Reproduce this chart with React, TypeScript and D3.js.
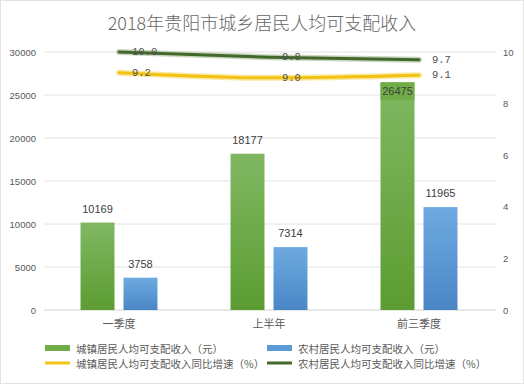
import React from "react";
import * as d3 from "d3";

const title = "2018年贵阳市城乡居民人均可支配收入";
const categories = ["一季度", "上半年", "前三季度"];
const urbanIncome = [10169, 18177, 26475];
const ruralIncome = [3758, 7314, 11965];
const urbanGrowth = [9.2, 9.0, 9.1];
const ruralGrowth = [10.0, 9.8, 9.7];
const leftTicks = [0, 5000, 10000, 15000, 20000, 25000, 30000];
const rightTicks = [0, 2, 4, 6, 8, 10];
const barSeries = ["城镇居民人均可支配收入（元）", "农村居民人均可支配收入（元）"];
const lineSeries = ["城镇居民人均可支配收入同比增速（%）", "农村居民人均可支配收入同比增速（%）"];

const W = 524;
const H = 384;
const M = { left: 44, right: 494, top: 52, bottom: 310 };
const CJK = "'Noto Sans CJK SC', sans-serif";
const SANS = "'Liberation Sans', sans-serif";
const MONO = "'Liberation Mono', monospace";
const TXT = "#595959";

export default function App() {
  const x0 = d3.scaleBand<string>().domain(categories).range([M.left, M.right]);
  const x1 = d3
    .scaleBand<string>()
    .domain(["urban", "rural"])
    .range([0, x0.bandwidth()])
    .paddingInner(0.21)
    .paddingOuter(0.85);
  const yL = d3.scaleLinear().domain([0, 30000]).range([M.bottom, M.top]);
  const yR = d3.scaleLinear().domain([0, 10]).range([M.bottom, M.top]);
  const cx = (c: string) => (x0(c) ?? 0) + x0.bandwidth() / 2;

  const line = d3
    .line<number>()
    .x((_, i) => cx(categories[i]))
    .y((v) => yR(v))
    .curve(d3.curveMonotoneX);

  const bars = [
    { key: "urban", values: urbanIncome, fill: "url(#gGreen)", solid: "#70ad47" },
    { key: "rural", values: ruralIncome, fill: "url(#gBlue)", solid: "#5b9bd5" },
  ];
  const lines = [
    { values: urbanGrowth, color: "#f2c314", glow: "#fbe9a0" },
    { values: ruralGrowth, color: "#43682b", glow: "#c9d6c0" },
  ];

  return (
    <svg width={W} height={H} style={{ position: "absolute", left: 0, top: 0, background: "#fff" }}>
      <defs>
        <linearGradient id="gGreen" x1="0" y1="0" x2="0" y2="1">
          <stop offset="0" stopColor="#80b862" />
          <stop offset="1" stopColor="#5c9c31" />
        </linearGradient>
        <linearGradient id="gBlue" x1="0" y1="0" x2="0" y2="1">
          <stop offset="0" stopColor="#6eaae0" />
          <stop offset="1" stopColor="#4a86c6" />
        </linearGradient>
      </defs>
      <rect x={0.5} y={0.5} width={W - 1} height={H - 1} fill="#fff" stroke="#e3e3e3" />

      <text x={262} y={22} textAnchor="middle" dominantBaseline="central" fontFamily={CJK} fontWeight={300} fontSize={18} fill="#666">
        {title}
      </text>

      {leftTicks.map((t) => (
        <g key={t}>
          <line x1={M.left} x2={M.right + 2} y1={yL(t)} y2={yL(t)} stroke={t === 0 ? "#d0d0d0" : "#e2e2e2"} />
          <text x={36} y={yL(t)} textAnchor="end" dominantBaseline="central" fontFamily={SANS} fontSize={9.5} fill={TXT}>
            {t}
          </text>
        </g>
      ))}
      {rightTicks.map((t) => (
        <text key={t} x={503} y={yR(t)} dominantBaseline="central" fontFamily={SANS} fontSize={9.5} fill={TXT}>
          {t}
        </text>
      ))}

      {categories.map((c, i) => (
        <g key={c}>
          {bars.map((b) => {
            const bx = (x0(c) ?? 0) + (x1(b.key) ?? 0);
            const by = yL(b.values[i]);
            const inside = b.values[i] > 25000;
            return (
              <g key={b.key}>
                <rect x={bx} y={by} width={x1.bandwidth()} height={M.bottom - by} fill={b.fill} />
                {inside && <rect x={bx} y={by} width={x1.bandwidth()} height={18} fill={b.solid} />}
                <text
                  x={bx + x1.bandwidth() / 2}
                  y={inside ? by + 9 : by - 14}
                  textAnchor="middle"
                  dominantBaseline="central"
                  fontFamily={SANS}
                  fontSize={11}
                  fill="#404040"
                >
                  {b.values[i]}
                </text>
              </g>
            );
          })}
          <text x={cx(c)} y={323} textAnchor="middle" dominantBaseline="central" fontFamily={CJK} fontSize={11} fill={TXT}>
            {c}
          </text>
        </g>
      ))}

      {lines.map((l, k) => (
        <g key={k}>
          <path d={line(l.values) ?? ""} fill="none" stroke={l.glow} strokeWidth={6} strokeLinecap="round" />
          <path d={line(l.values) ?? ""} fill="none" stroke={l.color} strokeWidth={3} strokeLinecap="round" />
          {l.values.map((v, i) => (
            <text
              key={i}
              x={cx(categories[i]) + 13}
              y={yR(v)}
              dominantBaseline="central"
              fontFamily={MONO}
              fontSize={10.5}
              fill="#505050"
            >
              {v.toFixed(1)}
            </text>
          ))}
        </g>
      ))}

      {bars.map((b, k) => (
        <g key={b.key} transform={`translate(${k === 0 ? 45 : 267},348)`}>
          <rect x={0} y={-3} width={25} height={6} fill={b.solid} />
          <text x={31} y={0} dominantBaseline="central" fontFamily={CJK} fontSize={10.5} fill={TXT}>
            {barSeries[k]}
          </text>
        </g>
      ))}
      {lines.map((l, k) => (
        <g key={k} transform={`translate(${k === 0 ? 45 : 267},363)`}>
          <line x1={0} x2={25} y1={0} y2={0} stroke={l.color} strokeWidth={3} />
          <text x={31} y={0} dominantBaseline="central" fontFamily={CJK} fontSize={10.5} fill={TXT}>
            {lineSeries[k]}
          </text>
        </g>
      ))}
    </svg>
  );
}
